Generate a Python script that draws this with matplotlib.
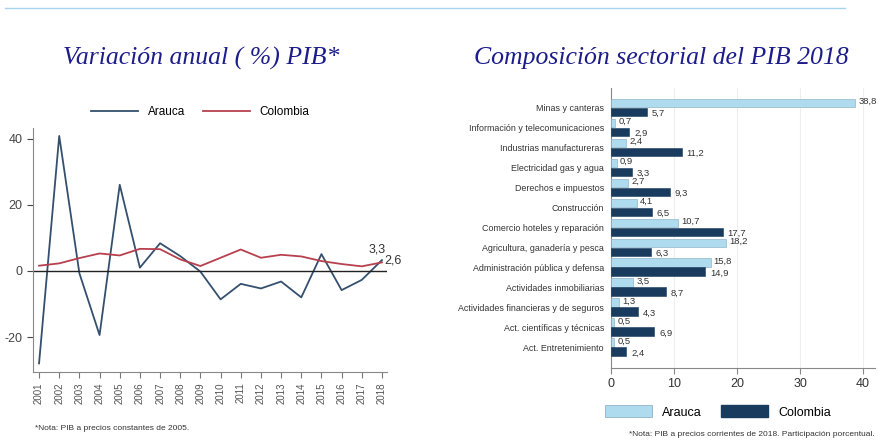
import matplotlib
matplotlib.use("Agg")
import matplotlib.pyplot as plt
from matplotlib.lines import Line2D
from matplotlib.patches import Patch
import numpy as np

# ---- data ----
years = list(range(2001, 2019))
arauca_growth = [-28.0, 40.9, -0.7, -19.4, 26.1, 1.0, 8.4, 4.5, -0.2, -8.6,
                 -3.9, -5.3, -3.2, -8.0, 5.1, -5.8, -2.7, 3.3]
colombia_growth = [1.6, 2.3, 3.9, 5.3, 4.7, 6.7, 6.6, 3.5, 1.5, 4.0,
                   6.5, 4.0, 4.9, 4.4, 3.0, 2.1, 1.4, 2.6]
yticks_left = [-20, 0, 20, 40]

sectors = ["Minas y canteras", "Información y telecomunicaciones",
           "Industrias manufactureras", "Electricidad gas y agua",
           "Derechos e impuestos", "Construcción",
           "Comercio hoteles y reparación", "Agricultura, ganadería y pesca",
           "Administración pública y defensa", "Actividades inmobiliarias",
           "Actividades financieras y de seguros", "Act. científicas y técnicas",
           "Act. Entretenimiento"]
arauca_share = [38.8, 0.7, 2.4, 0.9, 2.7, 4.1, 10.7, 18.2, 15.8, 3.5, 1.3, 0.5, 0.5]
colombia_share = [5.7, 2.9, 11.2, 3.3, 9.3, 6.5, 17.7, 6.3, 14.9, 8.7, 4.3, 6.9, 2.4]
xticks_right = [0, 10, 20, 30, 40]

FONT = ["Liberation Sans Narrow", "Liberation Sans", "DejaVu Sans"]
plt.rcParams["font.family"] = FONT


def fmt(v):
    return f"{v:.1f}".replace(".", ",")


fig = plt.figure(figsize=(8.79, 4.40), dpi=100)
fig.patch.set_facecolor("white")

# top decorative line
fig.add_artist(Line2D([5/879, 845/879], [1-8/440, 1-8/440], color="#a6d4ea", lw=1.0))

title_kw = dict(family="Liberation Serif", style="italic", color="#1c1c8a", fontsize=18.5,
                ha="center", va="center")
fig.text(201/879, 1-58/440, "Variación anual ( %) PIB*", **title_kw)
fig.text(661/879, 1-58/440, "Composición sectorial del PIB 2018", **title_kw)

# ---- left chart ----
axL = fig.add_axes([33/879, 1-372/440, 354/879, 244/440])
c_ar = "#34506e"
c_co = "#b8404e"
axL.plot(years, arauca_growth, color=c_ar, lw=1.3, label="Arauca")
axL.plot(years, colombia_growth, color=c_co, lw=1.3, label="Colombia")
axL.axhline(0, color="#222222", lw=1.0)
axL.set_xlim(2000.7, 2018.25)
axL.set_ylim(-30.6, 43.3)
axL.set_yticks(yticks_left)
axL.set_yticklabels([str(v) for v in yticks_left])
axL.set_xticks(years)
axL.set_xticklabels([str(y) for y in years], rotation=90, fontsize=7, color="#555555")
axL.tick_params(axis="y", labelsize=9, colors="#444444", length=4)
axL.tick_params(axis="x", length=4, colors="#777777", labelcolor="#555555")
for s in ["top", "right"]:
    axL.spines[s].set_visible(False)
for s in ["left", "bottom"]:
    axL.spines[s].set_color("#888888")
axL.text(years[-1] - 0.25, arauca_growth[-1] + 1.5, fmt(arauca_growth[-1]),
         fontsize=9, color="#333333", ha="center", va="bottom")
axL.text(years[-1] + 0.12, colombia_growth[-1] + 0.5, fmt(colombia_growth[-1]),
         fontsize=9, color="#333333", ha="left", va="center")
fig.legend(handles=[Line2D([], [], color=c_ar, lw=1.3), Line2D([], [], color=c_co, lw=1.3)],
           labels=["Arauca", "Colombia"], loc="center", bbox_to_anchor=(200/879, 1-112/440),
           ncol=2, frameon=False, fontsize=8.5, handlelength=4, columnspacing=1.5)
fig.text(35/879, 1-428/440, "*Nota: PIB a precios constantes de 2005.", fontsize=6,
         color="#333333", ha="left", va="center")

# ---- right chart ----
axR = fig.add_axes([611/879, 1-368/440, 264/879, 280/440])
c_ar2 = "#aedbed"
c_co2 = "#183b5e"
pos = -np.arange(len(sectors))
h = 0.42
off = 0.225
axR.barh(pos + off, arauca_share, height=h, color=c_ar2, edgecolor="#7fa9bf", lw=0.4, zorder=3)
axR.barh(pos - off, colombia_share, height=h, color=c_co2, edgecolor=c_co2, lw=0.4, zorder=3)
for p, a, c in zip(pos, arauca_share, colombia_share):
    axR.text(a + 0.5, p + off + 0.06, fmt(a), fontsize=6.8,
             color="#333333", ha="left", va="center")
    axR.text(c + 0.8, p - off - 0.07, fmt(c), fontsize=6.8,
             color="#333333", ha="left", va="center")
axR.set_yticks(pos)
axR.set_yticklabels(sectors, fontsize=6.4, color="#333333")
axR.tick_params(axis="y", length=0, pad=5)
axR.set_xlim(0, 41.9)
axR.set_ylim(-13.05, 0.975)
axR.set_xticks(xticks_right)
axR.set_xticklabels([str(v) for v in xticks_right])
axR.tick_params(axis="x", labelsize=9, colors="#888888", labelcolor="#333333", length=4)
axR.grid(axis="x", color="#eeeeee", lw=0.8, zorder=0)
for s in ["top", "right"]:
    axR.spines[s].set_visible(False)
for s in ["left", "bottom"]:
    axR.spines[s].set_color("#888888")
fig.legend(handles=[Patch(facecolor=c_ar2, edgecolor="#7fa9bf", lw=0.5),
                    Patch(facecolor=c_co2, edgecolor=c_co2)],
           labels=["Arauca", "Colombia"], loc="center", bbox_to_anchor=(718/879, 1-412/440),
           ncol=2, frameon=False, fontsize=9, handlelength=3.8, handleheight=1.1,
           columnspacing=1.5)
fig.text(875/879, 1-434/440, "*Nota: PIB a precios corrientes de 2018. Participación porcentual.",
         fontsize=6, color="#333333", ha="right", va="center")

fig.savefig("out.png", dpi=100)
